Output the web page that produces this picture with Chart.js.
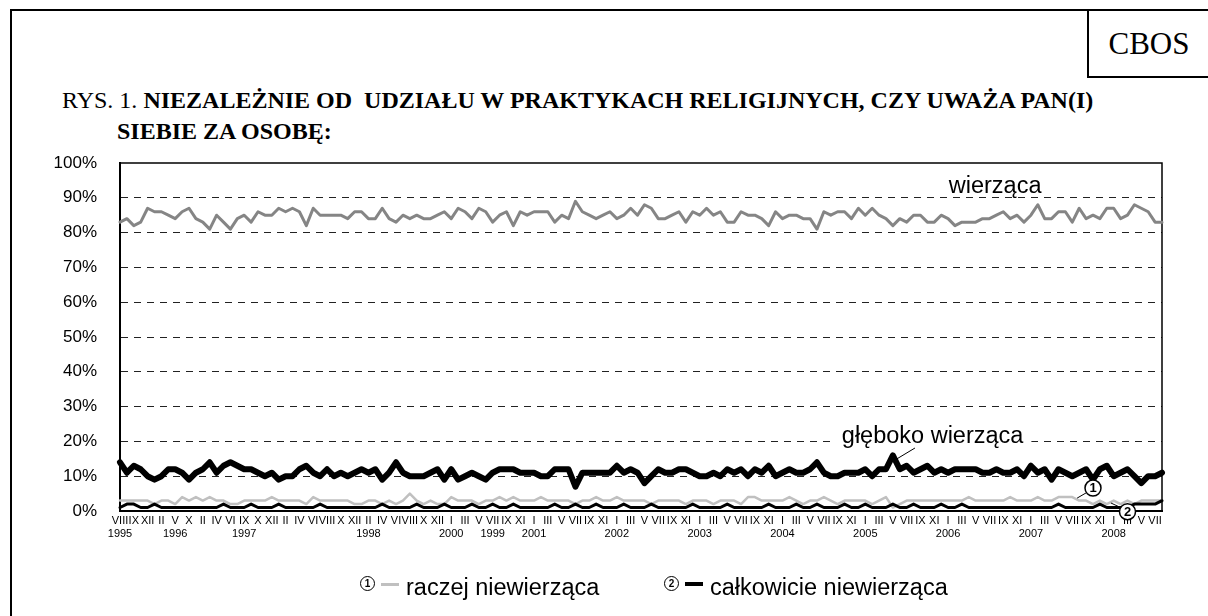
<!DOCTYPE html>
<html><head><meta charset="utf-8">
<script src="https://cdn.jsdelivr.net/npm/chart.js@4.4.1/dist/chart.umd.min.js"></script>
<style>
html,body{margin:0;padding:0;background:#fff;}
body{width:1208px;height:616px;position:relative;overflow:hidden;font-family:"Liberation Sans",Arial,sans-serif;color:#000;}
#frame{position:absolute;left:10px;top:9px;width:1220px;height:660px;border:2px solid #000;box-sizing:border-box;}
#cbos{position:absolute;left:1087px;top:9px;width:140px;height:69px;border:2px solid #000;box-sizing:border-box;background:#fff;}
#cbos span{position:absolute;left:0;width:120px;top:0;line-height:65px;text-align:center;font-family:"Liberation Serif","Times New Roman",serif;font-size:31px;}
.title{position:absolute;font-family:"Liberation Serif","Times New Roman",serif;font-size:24px;line-height:24px;white-space:pre;}
#t1{left:62px;top:88px;}
#t2{left:117px;top:119px;font-weight:bold;}
canvas{position:absolute;left:0;top:0;}
.leg{position:absolute;font-size:23.5px;line-height:24px;top:575px;white-space:nowrap;}
.circ{position:absolute;width:13px;height:13px;border:1.5px solid #000;border-radius:50%;font:bold 10px/13px "Liberation Sans",Arial,sans-serif;text-align:center;top:576px;background:#fff;}
.dash{position:absolute;}
</style></head>
<body>
<div id="frame"></div>
<div id="cbos"><span>CBOS</span></div>
<div class="title" id="t1">RYS. 1. <b>NIEZALEŻNIE OD  UDZIAŁU W PRAKTYKACH RELIGIJNYCH, CZY UWAŻA PAN(I)</b></div>
<div class="title" id="t2">SIEBIE ZA OSOBĘ:</div>
<canvas id="c" width="1208" height="616"></canvas>
<div class="circ" style="left:360px;">1</div>
<div class="dash" style="left:381px;top:583px;width:18px;height:3px;background:#c0c0c0;"></div>
<div class="leg" style="left:406px;">raczej niewierząca</div>
<div class="circ" style="left:664px;">2</div>
<div class="dash" style="left:685px;top:582px;width:18px;height:4px;background:#000;"></div>
<div class="leg" style="left:710px;">całkowicie niewierząca</div>
<script>
const months = [
"VIII","VIII","IX","X","XII","I","II","III","V","VII","X","XI",
"II","III","IV","V","VI","VII","IX","IX","X","XI","XII","I",
"II","III","IV","V","VI","VII","VIII","IX","X","XI","XII","I",
"II","III","IV","V","VI","VII","VIII","IX","X","XI","XII","XII",
"I","II","III","IV","V","VI","VII","VIII","IX","X","XI","XII",
"I","II","III","IV","V","VI","VII","VIII","IX","X","XI","XII",
"I","II","III","IV","V","VI","VII","VIII","IX","X","XI","XII",
"I","II","III","IV","V","VI","VII","VIII","IX","X","XI","XII",
"I","II","III","IV","V","VI","VII","VIII","IX","X","XI","XII",
"I","II","III","IV","V","VI","VII","VIII","IX","X","XI","XII",
"I","II","III","IV","V","VI","VII","VIII","IX","X","XI","XII",
"I","II","III","IV","V","VI","VII","VIII","IX","X","XI","XII",
"I","II","III","IV","V","VI","VII","VIII"];
const yearLabels = ["1995","1996","1997","1998","2000","1999","2001","2002","2003","2004","2005","2006","2007","2008"];
const yearIndex = [0,8,18,36,48,54,60,72,84,96,108,120,132,144];

const wierzaca = [
83,84,82,83,87,86,86,85,84,86,
87,84,83,81,85,83,81,84,85,83,
86,85,85,87,86,87,86,82,87,85,
85,85,85,84,86,86,84,84,87,84,
83,85,84,85,84,84,85,86,84,87,
86,84,87,86,83,85,86,82,86,85,
86,86,86,83,85,84,89,86,85,84,
85,86,84,85,87,85,88,87,84,84,
85,86,83,86,85,87,85,86,83,83,
86,85,85,84,82,86,84,85,85,84,
84,81,86,85,86,86,84,87,85,87,
85,84,82,84,83,85,85,83,83,85,
84,82,83,83,83,84,84,85,86,84,
85,83,85,88,84,84,86,86,83,87,
84,85,84,87,87,84,85,88,87,86,
83,83];
const gleboko = [
14,11,13,12,10,9,10,12,12,11,
9,11,12,14,11,13,14,13,12,12,
11,10,11,9,10,10,12,13,11,10,
12,10,11,10,11,12,11,12,9,11,
14,11,10,10,10,11,12,9,12,9,
10,11,10,9,11,12,12,12,11,11,
11,10,10,12,12,12,7,11,11,11,
11,11,13,11,12,11,8,10,12,11,
11,12,12,11,10,10,11,10,12,11,
12,10,12,11,13,10,11,12,11,11,
12,14,11,10,10,11,11,11,12,10,
12,12,16,12,13,11,12,13,11,12,
11,12,12,12,12,11,11,12,11,11,
12,10,13,11,12,9,12,11,10,11,
12,9,12,13,10,11,12,10,8,10,
10,11];
const raczej = [
3,3,3,3,3,2,3,3,2,4,
3,4,3,4,3,3,2,2,3,3,
3,3,4,3,3,3,3,2,4,3,
3,3,3,3,2,2,3,3,2,3,
2,3,5,3,2,3,2,2,4,3,
3,3,2,3,3,4,3,4,3,3,
3,4,3,3,3,3,2,3,3,4,
3,3,4,3,3,3,3,2,3,3,
3,3,2,3,3,3,2,3,3,3,
2,4,4,3,3,3,3,4,3,2,
3,3,4,3,2,3,3,3,3,2,
3,4,1,2,3,3,3,3,3,3,
3,3,3,4,3,3,3,3,3,4,
3,3,3,4,3,3,4,4,4,3,
3,2,3,2,3,2,3,2,3,3,
3,3];
const calkowicie = [
1,2,2,1,1,2,1,1,1,1,
1,1,1,1,1,2,1,1,1,2,
1,1,1,2,1,1,1,1,1,2,
1,1,1,1,1,1,1,1,2,1,
1,1,1,2,1,1,1,2,1,1,
1,2,1,1,2,1,1,2,1,1,
1,1,1,2,1,1,2,1,1,2,
1,1,1,2,1,1,1,2,1,1,
1,1,1,2,1,1,1,1,2,1,
1,1,1,1,2,1,1,1,2,1,
1,2,1,1,1,2,1,1,2,1,
1,1,2,1,1,2,1,1,1,2,
1,1,2,1,1,1,1,1,1,1,
1,1,1,1,1,1,2,1,1,1,
1,1,2,1,1,1,1,2,2,2,
2,3];

const FONT = '"Liberation Sans", Arial, sans-serif';

const annot = {
  id: 'annot',
  beforeDatasetsDraw(chart) {
    const {ctx, chartArea: a} = chart;
    ctx.save();
    ctx.strokeStyle = '#000';
    ctx.lineWidth = 1.5;
    ctx.beginPath();
    ctx.moveTo(a.left, a.top);
    ctx.lineTo(a.right, a.top);
    ctx.lineTo(a.right, a.bottom);
    ctx.stroke();
    ctx.restore();
  },
  afterDatasetsDraw(chart) {
    const {ctx, scales: {x, y}} = chart;
    const px = i => x.getPixelForValue(i);
    const py = v => y.getPixelForValue(v);
    ctx.save();
    ctx.font = '23.5px ' + FONT;
    ctx.fillStyle = '#000';
    ctx.textBaseline = 'alphabetic';
    ctx.textAlign = 'left';
    ctx.fillText('wierząca', px(120.1), py(91.3));
    const gx = px(104.6), gy = py(19.5);
    const gw = ctx.measureText('głęboko wierząca').width;
    ctx.fillStyle = '#fff';
    ctx.fillRect(gx - 9, py(20) - 3, gw + 17, 6);
    ctx.fillStyle = '#000';
    ctx.fillText('głęboko wierząca', gx, gy);
    ctx.strokeStyle = '#000';
    ctx.lineWidth = 1;
    ctx.beginPath();
    ctx.moveTo(px(115.2), py(18.1));
    ctx.lineTo(px(112.6), py(15.0));
    ctx.stroke();
    const callout = (cx, cy, lx1, ly1, lx2, ly2, t) => {
      ctx.strokeStyle = '#000';
      ctx.lineWidth = 1;
      ctx.beginPath();
      ctx.moveTo(lx1, ly1);
      ctx.lineTo(lx2, ly2);
      ctx.stroke();
      ctx.beginPath();
      ctx.arc(cx, cy, 8, 0, Math.PI * 2);
      ctx.fillStyle = '#fff';
      ctx.fill();
      ctx.lineWidth = 1.5;
      ctx.stroke();
      ctx.fillStyle = '#000';
      ctx.font = 'bold 13px ' + FONT;
      ctx.textAlign = 'center';
      ctx.textBaseline = 'middle';
      ctx.fillText(t, cx, cy + 0.5);
    };
    callout(px(141.0), py(6.6), px(140.0), py(5.2), px(138.7), py(3.7), '1');
    callout(px(146.0), py(-0.2), px(145.0), py(1.0), px(143.6), py(2.3), '2');
    ctx.restore();
  }
};

new Chart(document.getElementById('c'), {
  type: 'line',
  data: {
    labels: months,
    datasets: [
      {label: 'wierząca', data: wierzaca, borderColor: '#858585', borderWidth: 3, order: 2},
      {label: 'głęboko wierząca', data: gleboko, borderColor: '#000', borderWidth: 6, order: 1},
      {label: 'raczej niewierząca', data: raczej, borderColor: '#c0c0c0', borderWidth: 2.5, order: 4},
      {label: 'całkowicie niewierząca', data: calkowicie, borderColor: '#000', borderWidth: 3, order: 3}
    ]
  },
  options: {
    responsive: false,
    animation: false,
    devicePixelRatio: 1,
    clip: false,
    elements: {
      point: {radius: 0, hoverRadius: 0},
      line: {tension: 0, borderJoinStyle: 'round', borderCapStyle: 'round', fill: false}
    },
    layout: {padding: {left: 0, top: 163, right: 46, bottom: 65}},
    plugins: {legend: {display: false}, tooltip: {enabled: false}, title: {display: false}},
    scales: {
      x: {
        offset: false,
        grid: {display: false, drawTicks: false},
        border: {display: true, color: '#000', width: 2},
        ticks: {
          autoSkip: false, maxRotation: 0, minRotation: 0, padding: 3,
          color: '#000', font: {family: FONT, size: 11, lineHeight: 1.2},
          callback: function(value, index) {
            if (index % 2) return '';
            const m = months[index];
            const yi = yearIndex.indexOf(index);
            return yi >= 0 ? [m, yearLabels[yi]] : m;
          }
        },
        afterFit: s => { s.height = 40; }
      },
      y: {
        min: 0, max: 100,
        grid: {
          drawTicks: false, lineWidth: 1,
          color: c => (c.tick && (c.tick.value === 0 || c.tick.value === 100)) ? 'rgba(0,0,0,0)' : '#222'
        },
        border: {display: true, color: '#000', width: 2, dash: [7, 6]},
        ticks: {stepSize: 10, padding: 23, color: '#000', font: {family: FONT, size: 17}, callback: v => v + '%'},
        afterFit: s => { s.width = 120; }
      }
    }
  },
  plugins: [annot]
});
</script>
</body></html>
